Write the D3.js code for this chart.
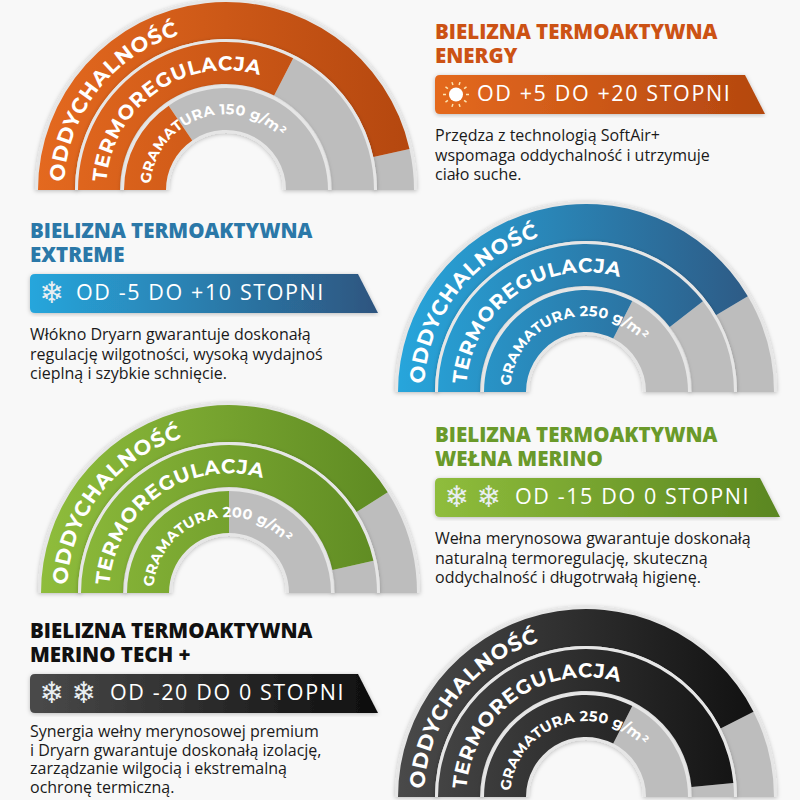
<!DOCTYPE html>
<html><head><meta charset="utf-8">
<script src="https://cdn.jsdelivr.net/npm/d3@7"></script>
<style>body{margin:0;background:#f8f8f8}svg{display:block}</style>
</head><body>
<svg id="c" width="800" height="800"></svg>
<script>
const products = ["ENERGY","EXTREME","WEŁNA MERINO","MERINO TECH +"];
const ranges = ["OD +5 DO +20 STOPNI","OD -5 DO +10 STOPNI","OD -15 DO 0 STOPNI","OD -20 DO 0 STOPNI"];
const ringLabels = ["ODDYCHALNOŚĆ","TERMOREGULACJA","GRAMATURA"];
const gramatura = ["150 g/m²","250 g/m²","200 g/m²","250 g/m²"];
const oddychalnosc = [0.93,0.83,0.82,0.85];
const termoregulacja = [0.65,0.79,0.93,0.97];
const gramaturaVal = [0.31,0.65,0.50,0.65];
const descriptions = [
 ["Przędza z technologią SoftAir+","wspomaga oddychalność i utrzymuje","ciało suche."],
 ["Włókno Dryarn gwarantuje doskonałą","regulację wilgotności, wysoką wydajnoś","cieplną i szybkie schnięcie."],
 ["Wełna merynosowa gwarantuje doskonałą","naturalną termoregulację, skuteczną","oddychalność i długotrwałą higienę."],
 ["Synergia wełny merynosowej premium","i Dryarn gwarantuje doskonałą izolację,","zarządzanie wilgocią i ekstremalną","ochronę termiczną."]
];
const icons = ["sun","snow1","snow2","snow2"];

const themes = [
 {c1:"#e4691f",c2:"#b4470f",title:"#cc5214"},
 {c1:"#27a6dc",c2:"#2e557f",title:"#2b78a8"},
 {c1:"#8fbd3c",c2:"#5a8620",title:"#6a9a2a"},
 {c1:"#4a4a4a",c2:"#0e0e0e",title:"#111111"}
];
const layout = [
 {cx:226,cy:190,tx:435,ty:34,dOff:27,dGap:19.5},
 {cx:586,cy:392,tx:30,ty:233,dOff:27,dGap:19.5},
 {cx:229,cy:593,tx:435,ty:437,dOff:27,dGap:19.5},
 {cx:586,cy:797,tx:30,ty:633,dOff:24,dGap:18.5}
];
const radii = [[151,188],[106,148],[60,102]];
const fontSizes = [21,20,14.5];

const svg = d3.select("#c");
const defs = svg.append("defs");
const f = defs.append("filter").attr("id","sh").attr("x","-10%").attr("y","-10%").attr("width","120%").attr("height","120%");
f.append("feDropShadow").attr("dx",0).attr("dy",1).attr("stdDeviation",2).attr("flood-color","#000").attr("flood-opacity",0.25);

const ang = d3.scaleLinear().domain([0,1]).range([-Math.PI/2, Math.PI/2]);

products.forEach((p,i)=>{
  const L = layout[i], T = themes[i];
  const gid = "g"+i;
  const g = defs.append("linearGradient").attr("id",gid).attr("gradientUnits","userSpaceOnUse")
    .attr("x1",-190).attr("x2",190).attr("y1",0).attr("y2",0);
  g.append("stop").attr("offset","0").attr("stop-color",T.c1);
  g.append("stop").attr("offset","1").attr("stop-color",T.c2);
  const bg = defs.append("linearGradient").attr("id","b"+i);
  bg.append("stop").attr("offset","0").attr("stop-color",T.c1);
  bg.append("stop").attr("offset","1").attr("stop-color",T.c2);

  const grp = svg.append("g").attr("transform",`translate(${L.cx},${L.cy})`);
  const vals = [oddychalnosc[i],termoregulacja[i],gramaturaVal[i]];
  vals.forEach((v,k)=>{
    const [ri,ro] = radii[k];
    grp.append("path").attr("d",d3.arc()({innerRadius:ri-3,outerRadius:ro+3,startAngle:ang(0),endAngle:ang(1)}))
      .attr("fill","#e6e6e6").attr("filter","url(#sh)");
    grp.append("path").attr("d",d3.arc()({innerRadius:ri,outerRadius:ro,startAngle:ang(v),endAngle:ang(1)}))
      .attr("fill","#bdbdbd");
    grp.append("path").attr("d",d3.arc()({innerRadius:ri,outerRadius:ro,startAngle:ang(0),endAngle:ang(v)}))
      .attr("fill",`url(#${gid})`);
    const fs = fontSizes[k];
    const rb = (ri+ro)/2 - fs*0.36;
    const pid = `tp${i}_${k}`;
    defs.append("path").attr("id",pid)
      .attr("d",`M${L.cx-rb},${L.cy} A${rb},${rb} 0 0 1 ${L.cx+rb},${L.cy}`);
    const label = k===2 ? ringLabels[k]+" "+gramatura[i] : ringLabels[k];
    svg.append("text").attr("font-family","Montserrat, 'Open Sans', sans-serif").attr("font-weight",700)
      .attr("font-size",fs).attr("fill","#fff").attr("letter-spacing",k===2?0.3:0.8)
      .append("textPath").attr("href","#"+pid).attr("startOffset",k===0?8:k===1?8:6).text(label);
  });

  const tg = svg.append("g").attr("transform",`translate(${L.tx},${L.ty})`);
  const title = tg.append("text").attr("font-family","'Open Sans', sans-serif").attr("font-weight",800)
    .attr("font-size",20.5).attr("fill",T.title).attr("dominant-baseline","middle");
  title.append("tspan").attr("x",0).attr("y",0).text("BIELIZNA TERMOAKTYWNA");
  title.append("tspan").attr("x",0).attr("y",24).text(p);
  const bw = i===2?345:(i===0?330:348), by=41, bh=39;
  tg.append("path").attr("d",`M5,${by} H${bw-20} L${bw},${by+bh} H5 Q0,${by+bh} 0,${by+bh-5} V${by+5} Q0,${by} 5,${by} Z`)
    .attr("fill",`url(#b${i})`).attr("filter","url(#sh)");
  let tx0 = 42;
  if(icons[i]==="sun"){
    const s = tg.append("g").attr("transform",`translate(21,${by+bh/2})`);
    s.append("circle").attr("r",7).attr("fill","#fff");
    d3.range(10).forEach(j=>{const a=j*Math.PI/5;
      s.append("line").attr("x1",10*Math.cos(a)).attr("y1",10*Math.sin(a)).attr("x2",13*Math.cos(a)).attr("y2",13*Math.sin(a))
       .attr("stroke","#fde4b0").attr("stroke-width",1.5);});
  } else {
    const n = icons[i]==="snow1"?1:2;
    d3.range(n).forEach(j=>{
      tg.append("text").attr("x",22+j*32).attr("y",by+bh/2+1).attr("text-anchor","middle").attr("dominant-baseline","middle")
        .attr("font-family","DejaVu Sans").attr("font-size",30).attr("fill","#e8eef2").text("❄");
    });
    tx0 = n===1?46:80;
  }
  tg.append("text").attr("x",tx0).attr("y",by+bh/2+1).attr("dominant-baseline","middle")
    .attr("font-family","'Open Sans', sans-serif").attr("font-size",21.5).attr("fill","#fff").attr("letter-spacing",1.6)
    .text(ranges[i]);
  const d = tg.append("text").attr("font-family","'Open Sans', sans-serif").attr("font-size",16).attr("fill","#1a1a1a");
  descriptions[i].forEach((line,j)=>d.append("tspan").attr("x",0).attr("y",by+bh+L.dOff+j*L.dGap).text(line));
});
</script>
</body></html>
